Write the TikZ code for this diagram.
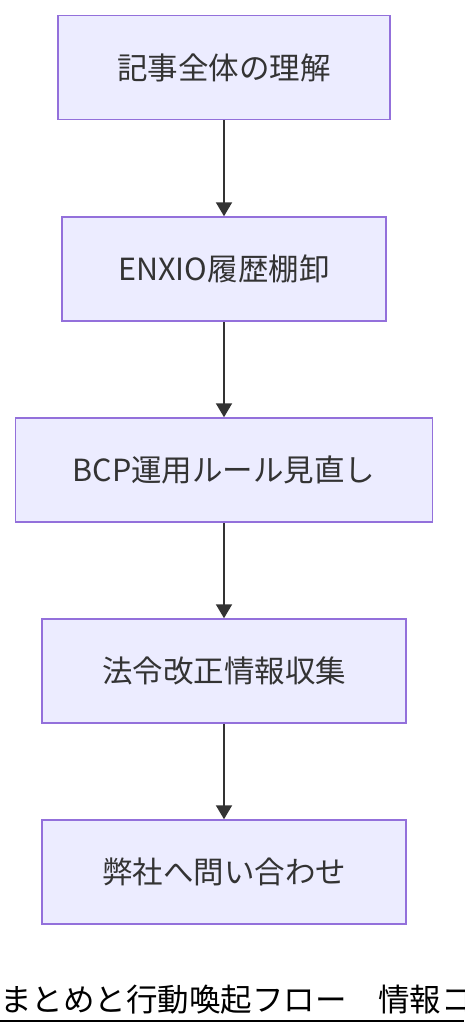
\documentclass[tikz,border=0pt]{standalone}
\usepackage{fontspec}
\setmainfont{Noto Sans CJK JP}
\usetikzlibrary{arrows.meta}
\definecolor{boxfill}{HTML}{ECECFF}
\definecolor{boxline}{HTML}{9370DB}
\definecolor{ink}{HTML}{333333}
\begin{document}
\begin{tikzpicture}[x=1pt,y=-1pt]
        \tikzstyle{box}=[draw=boxline,fill=boxfill,line width=1.5pt,minimum height=104pt,inner sep=0pt,text=ink,font=\fontsize{30.5pt}{36pt}\selectfont]
        \tikzstyle{flow}=[draw=ink,line width=2pt,-{Triangle[length=14pt,width=16pt]}]

        \useasboundingbox (0,0) rectangle (464,1036);
        \clip (0,0) rectangle (464,1036);

        \node[box,minimum width=332pt](s1) at (224,67.5){記事全体の理解};
        \node[box,minimum width=324pt](s2) at (224,269){ENXIO履歴棚卸};
        \node[box,minimum width=417pt](s3) at (224,470){BCP運用ルール見直し};
        \node[box,minimum width=364pt](s4) at (224,671){法令改正情報収集};
        \node[box,minimum width=364pt](s5) at (224,872){弊社へ問い合わせ};

        \draw[flow] (s1) -- (s2);
        \draw[flow] (s2) -- (s3);
        \draw[flow] (s3) -- (s4);
        \draw[flow] (s4) -- (s5);

        \node[anchor=base west,inner sep=0pt,font=\fontsize{31.5pt}{37pt}\selectfont](title) at (0,1011){まとめと行動喚起フロー　情報コ};
        \draw[line width=2pt] (0,1021) -- (464,1021);

    \end{tikzpicture}
\end{document}
